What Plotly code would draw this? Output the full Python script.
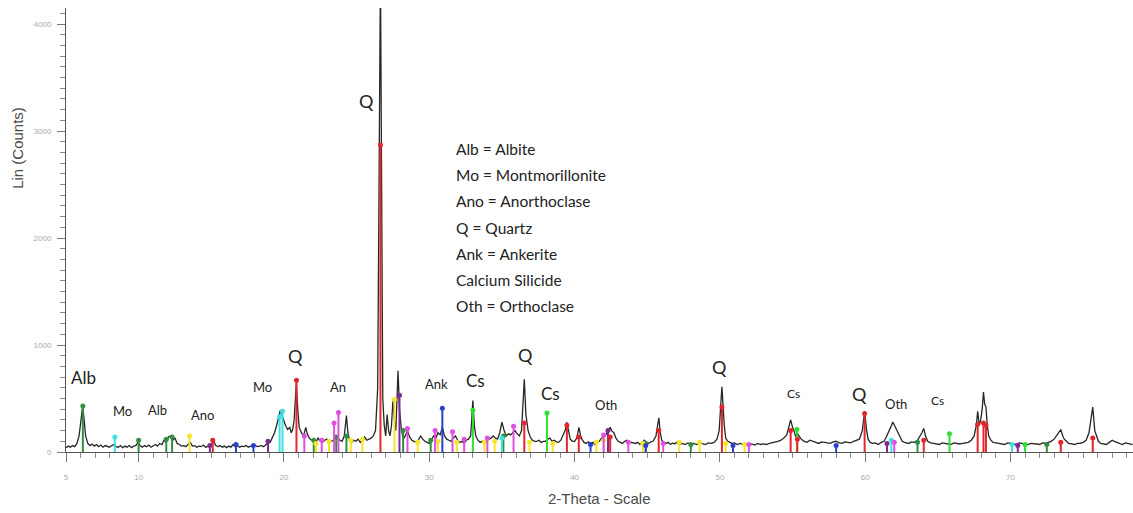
import plotly.graph_objects as go

# ---------------- data ----------------
PATTERN = [
    (5.0, 40), (5.15, 55), (5.3, 45), (5.45, 60), (5.6, 50), (5.75, 80), (5.9, 150), (6.0, 260), (6.15, 430),
    (6.25, 300), (6.35, 150), (6.5, 80), (6.65, 60), (6.8, 75), (6.95, 55), (7.1, 70), (7.25, 50), (7.4, 65),
    (7.55, 45), (7.7, 60), (7.85, 50), (8.0, 45), (8.15, 60), (8.3, 70), (8.45, 50), (8.6, 45), (8.75, 60),
    (8.9, 40), (9.05, 55), (9.2, 45), (9.35, 60), (9.5, 40), (9.65, 55), (9.8, 60), (9.95, 90), (10.1, 60),
    (10.25, 45), (10.4, 60), (10.55, 50), (10.7, 65), (10.85, 45), (11.0, 55), (11.15, 70), (11.3, 55),
    (11.45, 80), (11.6, 70), (11.75, 110), (11.9, 90), (12.05, 140), (12.2, 150), (12.35, 110), (12.5, 130),
    (12.65, 80), (12.8, 70), (12.95, 55), (13.1, 60), (13.25, 50), (13.4, 70), (13.55, 90), (13.7, 55),
    (13.85, 60), (14.0, 45), (14.15, 55), (14.3, 50), (14.45, 65), (14.6, 45), (14.75, 55), (14.9, 60),
    (15.05, 80), (15.15, 110), (15.3, 60), (15.45, 50), (15.6, 60), (15.75, 45), (15.9, 55), (16.05, 40),
    (16.2, 55), (16.35, 45), (16.5, 70), (16.65, 50), (16.8, 60), (16.95, 45), (17.1, 55), (17.25, 50),
    (17.4, 60), (17.55, 45), (17.7, 55), (17.85, 50), (18.0, 65), (18.15, 50), (18.3, 55), (18.45, 60),
    (18.6, 50), (18.75, 70), (18.9, 85), (19.05, 90), (19.2, 130), (19.35, 180), (19.5, 250), (19.6, 320),
    (19.75, 390), (19.85, 350), (19.95, 300), (20.1, 250), (20.25, 210), (20.4, 230), (20.5, 180), (20.6, 210),
    (20.7, 300), (20.85, 640), (20.95, 400), (21.05, 230), (21.2, 180), (21.35, 150), (21.5, 230), (21.6, 170),
    (21.75, 130), (21.9, 110), (22.05, 120), (22.2, 90), (22.35, 130), (22.5, 100), (22.65, 90), (22.8, 110),
    (22.95, 120), (23.1, 90), (23.25, 100), (23.4, 110), (23.55, 150), (23.7, 130), (23.85, 110), (24.0, 100),
    (24.15, 150), (24.3, 340), (24.4, 180), (24.5, 120), (24.65, 90), (24.8, 110), (24.95, 100), (25.1, 120),
    (25.25, 90), (25.4, 110), (25.55, 140), (25.7, 110), (25.85, 120), (26.0, 130), (26.15, 150), (26.3, 200),
    (26.45, 600), (26.64, 4500), (26.8, 500), (26.9, 250), (27.0, 150), (27.1, 350), (27.2, 200), (27.3, 150),
    (27.4, 250), (27.5, 480), (27.6, 300), (27.7, 200), (27.85, 760), (27.95, 400), (28.05, 250), (28.2, 120),
    (28.35, 150), (28.5, 200), (28.65, 140), (28.8, 110), (28.95, 100), (29.1, 90), (29.25, 110), (29.4, 150),
    (29.55, 120), (29.7, 100), (29.85, 90), (30.0, 80), (30.15, 110), (30.3, 150), (30.45, 130), (30.6, 180),
    (30.75, 160), (30.9, 230), (31.05, 150), (31.2, 120), (31.35, 110), (31.5, 100), (31.65, 130), (31.8, 150),
    (31.95, 110), (32.1, 90), (32.25, 100), (32.4, 80), (32.55, 110), (32.7, 120), (32.85, 150), (33.0, 480),
    (33.1, 250), (33.2, 150), (33.35, 110), (33.5, 90), (33.65, 100), (33.8, 80), (33.95, 100), (34.1, 120),
    (34.25, 130), (34.4, 150), (34.55, 130), (34.7, 120), (34.85, 180), (35.0, 280), (35.15, 200), (35.3, 150),
    (35.45, 170), (35.6, 160), (35.75, 180), (35.9, 200), (36.05, 170), (36.2, 150), (36.35, 200), (36.54, 680),
    (36.65, 350), (36.8, 200), (36.95, 140), (37.1, 110), (37.25, 100), (37.4, 100), (37.55, 110), (37.7, 90),
    (37.85, 100), (38.0, 100), (38.15, 120), (38.3, 130), (38.45, 100), (38.6, 110), (38.75, 95), (38.9, 90),
    (39.05, 110), (39.2, 150), (39.35, 200), (39.47, 280), (39.6, 170), (39.7, 120), (39.85, 100), (40.0, 100),
    (40.15, 130), (40.3, 230), (40.4, 160), (40.5, 120), (40.65, 90), (40.8, 80), (40.95, 95), (41.1, 80),
    (41.25, 90), (41.4, 70), (41.55, 90), (41.7, 100), (41.8, 120), (41.95, 140), (42.1, 150), (42.25, 190),
    (42.45, 230), (42.55, 200), (42.7, 180), (42.85, 130), (43.0, 100), (43.15, 90), (43.3, 80), (43.45, 100),
    (43.6, 110), (43.75, 95), (43.9, 90), (44.05, 85), (44.2, 80), (44.35, 90), (44.5, 70), (44.65, 90),
    (44.8, 110), (44.95, 90), (45.1, 80), (45.25, 95), (45.4, 100), (45.6, 150), (45.8, 320), (45.9, 180),
    (46.0, 110), (46.15, 90), (46.3, 80), (46.45, 90), (46.6, 70), (46.75, 85), (46.9, 75), (47.0, 90),
    (47.2, 70), (47.4, 80), (47.6, 70), (47.8, 85), (48.0, 70), (48.2, 80), (48.4, 70), (48.6, 85), (48.8, 75),
    (49.0, 70), (49.2, 85), (49.4, 80), (49.6, 90), (49.8, 120), (49.95, 200), (50.14, 610), (50.3, 250),
    (50.4, 130), (50.55, 100), (50.7, 90), (50.85, 80), (51.0, 85), (51.2, 70), (51.4, 80), (51.6, 70),
    (51.8, 75), (52.0, 65), (52.2, 75), (52.4, 65), (52.6, 80), (52.8, 70), (53.0, 75), (53.2, 70), (53.4, 80),
    (53.6, 85), (53.8, 90), (54.0, 100), (54.2, 110), (54.4, 130), (54.6, 160), (54.87, 300), (55.0, 230),
    (55.1, 200), (55.2, 150), (55.35, 170), (55.5, 140), (55.6, 120), (55.8, 100), (56.0, 90), (56.2, 110),
    (56.4, 100), (56.6, 85), (56.8, 80), (57.0, 95), (57.2, 90), (57.4, 85), (57.6, 80), (57.8, 95), (58.0, 100),
    (58.2, 85), (58.4, 80), (58.6, 95), (58.8, 90), (59.0, 85), (59.2, 100), (59.4, 110), (59.6, 120),
    (59.8, 200), (59.96, 380), (60.1, 200), (60.2, 120), (60.35, 90), (60.5, 80), (60.7, 85), (60.9, 70),
    (61.1, 90), (61.3, 100), (61.45, 140), (61.6, 180), (61.75, 230), (61.9, 280), (62.0, 250), (62.1, 230),
    (62.25, 180), (62.4, 130), (62.55, 100), (62.7, 90), (62.85, 85), (63.0, 80), (63.2, 95), (63.4, 90),
    (63.6, 110), (63.8, 150), (63.9, 180), (64.03, 220), (64.15, 150), (64.3, 100), (64.5, 85), (64.7, 80),
    (64.9, 75), (65.1, 70), (65.3, 85), (65.5, 80), (65.7, 75), (65.9, 70), (66.1, 85), (66.3, 80), (66.5, 75),
    (66.7, 80), (66.9, 85), (67.1, 90), (67.3, 110), (67.5, 150), (67.65, 250), (67.74, 380), (67.85, 250),
    (67.95, 300), (68.05, 400), (68.14, 560), (68.22, 450), (68.31, 420), (68.4, 250), (68.5, 150), (68.65, 110),
    (68.8, 90), (69.0, 85), (69.2, 80), (69.4, 75), (69.6, 70), (69.8, 85), (70.0, 80), (70.2, 75), (70.4, 70),
    (70.6, 85), (70.8, 80), (71.0, 75), (71.2, 70), (71.4, 80), (71.6, 80), (71.8, 75), (72.0, 70), (72.2, 85),
    (72.4, 80), (72.6, 90), (72.8, 100), (73.0, 120), (73.2, 160), (73.35, 180), (73.46, 210), (73.6, 150),
    (73.7, 120), (73.85, 100), (74.0, 80), (74.2, 75), (74.4, 70), (74.6, 80), (74.8, 80), (75.0, 90),
    (75.2, 110), (75.4, 180), (75.55, 350), (75.66, 420), (75.8, 200), (75.9, 150), (76.05, 100), (76.2, 80),
    (76.4, 75), (76.6, 70), (76.8, 90), (77.0, 110), (77.15, 100), (77.3, 90), (77.5, 80), (77.7, 70),
    (77.9, 85), (78.0, 80), (78.2, 75), (78.4, 70),
]
TWO_THETA = [p[0] for p in PATTERN]
COUNTS = [p[1] for p in PATTERN]

# reference-phase sticks (position, height)
QUARTZ_POS = [20.86, 26.64, 36.54, 39.47, 40.29, 42.45, 45.79, 50.14, 54.87, 55.33, 59.96, 64.03, 67.74, 68.14, 68.31, 73.46, 75.66, 15.1]
QUARTZ_H = [670, 2870, 270, 250, 140, 140, 200, 420, 200, 120, 360, 110, 260, 270, 250, 90, 130, 110]
ALBITE_POS = [6.16, 10.0, 11.9, 12.3, 22.05, 23.6, 24.3, 28.2, 30.1, 35.1, 44.9, 48.0, 63.6, 72.5]
ALBITE_H = [430, 110, 120, 140, 110, 140, 150, 200, 110, 150, 80, 70, 90, 70]
MONT_POS = [8.36, 19.7, 19.9, 35.0, 61.8, 70.1]
MONT_H = [140, 330, 380, 130, 110, 70]
ANORTH_POS = [13.5, 22.2, 23.1, 24.6, 25.4, 27.6, 29.2, 30.6, 31.9, 33.8, 34.5, 36.9, 38.5, 41.5, 42.0, 44.7, 47.2, 48.6, 50.4, 51.7]
ANORTH_H = [150, 80, 100, 110, 120, 490, 90, 100, 90, 90, 100, 90, 80, 90, 110, 80, 90, 90, 80, 70]
ANKER_POS = [16.7, 17.9, 30.9, 41.1, 44.9, 50.9, 58.0]
ANKER_H = [70, 60, 410, 70, 60, 60, 60]
CASI_POS = [33.0, 38.1, 55.3, 65.8, 71.0]
CASI_H = [390, 365, 210, 170, 70]
ORTHO_POS = [21.4, 22.6, 23.45, 23.75, 28.5, 30.4, 31.6, 32.4, 34.0, 35.8, 42.0, 43.7, 46.1, 52.0, 62.0]
ORTHO_H = [150, 110, 270, 370, 220, 200, 190, 120, 130, 240, 160, 90, 80, 70, 90]
PURPLE_POS = [14.9, 18.9, 27.95, 42.3, 61.5, 70.5]
PURPLE_H = [60, 100, 530, 200, 80, 60]

PHASES = [
    ("Albite", ALBITE_POS, ALBITE_H, "#2f8f3f"),
    ("Montmorillonite", MONT_POS, MONT_H, "#3ee0e0"),
    ("Anorthoclase", ANORTH_POS, ANORTH_H, "#f5e62a"),
    ("Ankerite", ANKER_POS, ANKER_H, "#2a3fd0"),
    ("Calcium Silicide", CASI_POS, CASI_H, "#2fe02f"),
    ("Orthoclase", ORTHO_POS, ORTHO_H, "#e24ee2"),
    ("Other", PURPLE_POS, PURPLE_H, "#7b2c94"),
    ("Quartz", QUARTZ_POS, QUARTZ_H, "#e3262b"),
]

X_TICKS = [5, 10, 20, 30, 40, 50, 60, 70]
Y_TICKS = [0, 1000, 2000, 3000, 4000]

PEAK_LABELS = [
    ("Alb", 6.2, 700, 17), ("Mo", 8.9, 380, 13), ("Alb", 11.3, 390, 13), ("Ano", 14.4, 350, 13),
    ("Mo", 18.5, 610, 13), ("Q", 20.8, 900, 18), ("An", 23.7, 610, 13), ("Q", 25.7, 3280, 18),
    ("Ank", 30.5, 640, 13), ("Cs", 33.2, 670, 17), ("Q", 36.6, 910, 18), ("Cs", 38.35, 550, 17),
    ("Oth", 42.15, 440, 13), ("Q", 50.0, 790, 18), ("Cs", 55.05, 550, 12), ("Q", 59.6, 540, 18),
    ("Oth", 62.1, 450, 13), ("Cs", 65.0, 480, 12),
]

LEGEND_LINES = ["Alb = Albite", "Mo = Montmorillonite", "Ano = Anorthoclase", "Q = Quartz",
                "Ank = Ankerite", "Calcium Silicide", "Oth = Orthoclase"]

# ---------------- figure ----------------
fig = go.Figure()

fig.add_trace(go.Scatter(x=TWO_THETA, y=COUNTS, mode="lines",
                         line=dict(color="#262626", width=1.3), hoverinfo="skip", showlegend=False))

for name, pos, h, col in PHASES:
    xs, ys = [], []
    for p, v in zip(pos, h):
        xs += [p, p, None]
        ys += [0, v, None]
    fig.add_trace(go.Scatter(x=xs, y=ys, mode="lines", line=dict(color=col, width=2),
                             showlegend=False, hoverinfo="skip"))
    fig.add_trace(go.Scatter(x=pos, y=h, mode="markers", marker=dict(color=col, size=5),
                             showlegend=False, name=name))

for txt, x, y, sz in PEAK_LABELS:
    fig.add_annotation(x=x, y=y, text=txt, showarrow=False, xref="x", yref="y",
                       font=dict(family="Lato, Liberation Sans, sans-serif", size=sz, color="#222"))

for i, line in enumerate(LEGEND_LINES):
    fig.add_annotation(x=31.7, y=2833 - i * 245, text=line, showarrow=False, xref="x", yref="y",
                       xanchor="left", yanchor="middle",
                       font=dict(family="Lato, Liberation Sans, sans-serif", size=15.5, color="#222"))

fig.add_annotation(x=-0.045, y=0.685, xref="paper", yref="paper", text="Lin (Counts)", textangle=-90,
                   showarrow=False, xanchor="center", yanchor="middle",
                   font=dict(family="Liberation Sans, Arial", size=15, color="#4a4a4a"))
fig.add_annotation(x=0.50, y=-0.105, xref="paper", yref="paper", text="2-Theta - Scale",
                   showarrow=False, xanchor="center", yanchor="middle",
                   font=dict(family="Liberation Sans, Arial", size=15, color="#4a4a4a"))

fig.update_layout(
    width=1133, height=513,
    margin=dict(l=66, r=0, t=8, b=61),
    paper_bgcolor="white", plot_bgcolor="white",
    xaxis=dict(range=[5, 78.43], tickmode="array", tickvals=X_TICKS, ticktext=[str(v) for v in X_TICKS],
               showgrid=False, zeroline=False, showline=True, linecolor="#555", linewidth=1,
               ticks="outside", ticklen=9, tickcolor="#777", tickwidth=1, ticklabelstandoff=8,
               minor=dict(tickmode="linear", tick0=0, dtick=1, ticks="outside", ticklen=5, tickcolor="#888"),
               tickfont=dict(family="Liberation Sans, Arial", size=8, color="#aaa")),
    yaxis=dict(range=[0, 4150], tickmode="array", tickvals=Y_TICKS, ticktext=[str(v) for v in Y_TICKS],
               showgrid=False, zeroline=False, showline=True, linecolor="#555", linewidth=1,
               ticks="outside", ticklen=8, tickcolor="#777", tickwidth=1, ticklabelstandoff=4,
               minor=dict(tickmode="linear", tick0=0, dtick=100, ticks="outside", ticklen=5, tickcolor="#888"),
               tickfont=dict(family="Liberation Sans, Arial", size=8, color="#aaa")),
)

fig.write_html("out.html")
